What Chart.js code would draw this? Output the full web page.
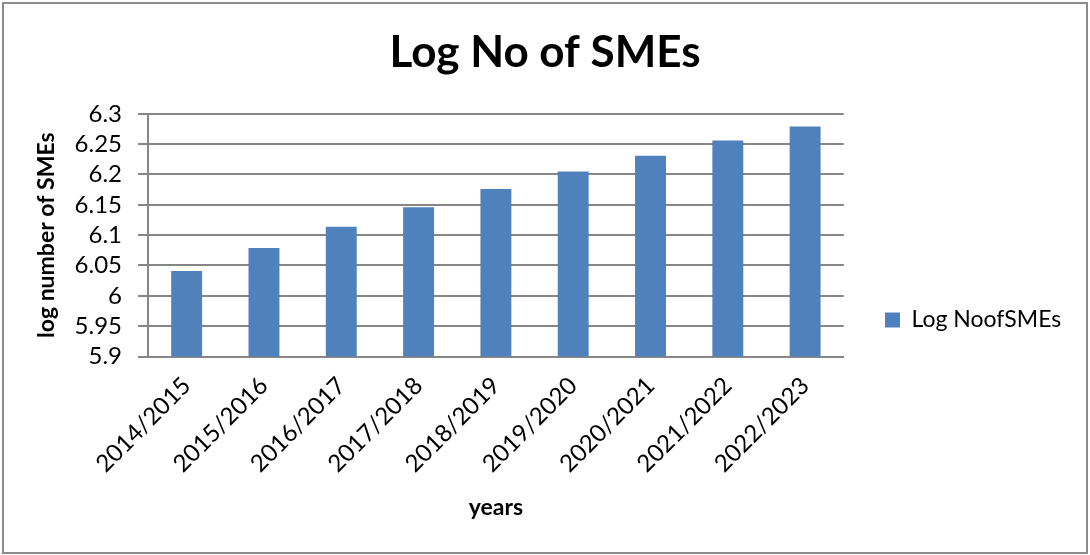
<!DOCTYPE html>
<html>
<head>
<meta charset="utf-8">
<title>Log No of SMEs</title>
<script src="https://cdn.jsdelivr.net/npm/chart.js@4/dist/chart.umd.min.js"></script>
<style>
  html, body { margin: 0; padding: 0; background: #fff; }
  #wrap { width: 1090px; height: 555px; position: relative; }
</style>
</head>
<body>
<div id="wrap"><canvas id="bar-chart"></canvas></div>
<script>
var years = ["2014/2015","2015/2016","2016/2017","2017/2018","2018/2019","2019/2020","2020/2021","2021/2022","2022/2023"];
var logSMEs = [6.041, 6.079, 6.114, 6.146, 6.176, 6.205, 6.231, 6.256, 6.279];
var yTicks = [5.9, 5.95, 6, 6.05, 6.1, 6.15, 6.2, 6.25, 6.3];

var fontName = "Lato, 'Open Sans', sans-serif";

// grey frame round the whole chart
var frame = {
	id: 'frame',
	afterDraw: function(chart) {
		var c = chart.ctx;
		c.save();
		c.strokeStyle = "#8c8c8c";
		c.lineWidth = 2;
		c.strokeRect(3, 3, chart.width - 6, chart.height - 5);
		c.restore();
	}
};

// put the legend in the middle of the right-hand strip
var legendSpot = {
	id: 'legendSpot',
	afterLayout: function(chart) {
		var lg = chart.legend;
		var h = lg.bottom - lg.top, w = lg.right - lg.left;
		var pad = lg.options.labels.padding;
		lg.left = 885 - pad;
		lg.right = lg.left + w;
		lg.top = 320 - h / 2;
		lg.bottom = lg.top + h;
	}
};

var grafic = document.getElementById("bar-chart").getContext("2d");

var myBarChart = new Chart(grafic, {
	type: 'bar',
	data: {
		labels: years,
		datasets: [
		{
			label: 'Log NoofSMEs',
			data: logSMEs,
			backgroundColor: "#4f81bd",
			borderColor: "#4f81bd",
			borderWidth: 0,
			categoryPercentage: 1,
			barPercentage: 0.4
		}
		]
	},
	options: {
		responsive: true,
		maintainAspectRatio: false,
		animation: false,
		layout: {
			padding: { left: 24, right: 24, top: 0, bottom: 22 }
		},
		plugins: {
			title: {
				display: true,
				text: 'Log No of SMEs',
				color: '#000',
				font: { family: fontName, size: 44, weight: 'bold' },
				padding: { top: 26, bottom: 35 }
			},
			legend: {
				position: 'right',
				labels: {
					color: '#000',
					font: { family: fontName, size: 23 },
					boxWidth: 15,
					boxHeight: 15,
					padding: 36
				}
			},
			tooltip: { enabled: false }
		},
		scales: {
			x: {
				afterFit: function(axis) { axis.height = 555 - 22 - 356.5; },
				grid: { display: false, drawTicks: false },
				border: { color: '#868686', width: 2 },
				ticks: {
					color: '#000',
					font: { family: fontName, size: 24 },
					maxRotation: 45,
					minRotation: 45,
					autoSkip: false,
					padding: 15
				},
				title: {
					display: true,
					text: 'years',
					color: '#000',
					font: { family: fontName, size: 23, weight: 'bold' },
					padding: { top: 0, bottom: 12 }
				}
			},
			y: {
				min: 5.9,
				max: 6.3,
				afterFit: function(axis) { axis.width = 148 - 24; },
				afterBuildTicks: function(axis) {
					axis.ticks = yTicks.map(function(v) { return { value: v }; });
				},
				grid: { color: '#868686', lineWidth: 2, tickLength: 10 },
				border: { color: '#868686', width: 2 },
				ticks: {
					color: '#000',
					font: { family: fontName, size: 24 },
					autoSkip: false,
					padding: 16,
					callback: function(v) { return String(+v.toFixed(2)); }
				},
				title: {
					display: true,
					text: 'log number of SMEs',
					color: '#000',
					font: { family: fontName, size: 23, weight: 'bold' },
					padding: { top: 9, bottom: 0 }
				}
			}
		}
	},
	plugins: [frame, legendSpot]
});
</script>
</body>
</html>
